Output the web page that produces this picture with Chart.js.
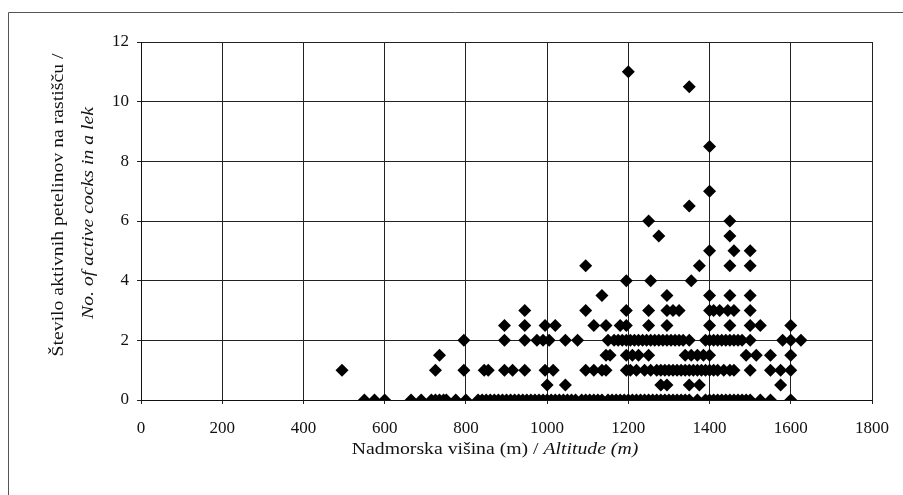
<!DOCTYPE html>
<html>
<head>
<meta charset="utf-8">
<script src="https://cdn.jsdelivr.net/npm/chart.js@4"></script>
<style>
  html, body { margin: 0; padding: 0; background: #fff; }
  #wrap { width: 903px; height: 495px; position: relative; }
</style>
</head>
<body>
<div id="wrap"><canvas id="c" width="903" height="495"></canvas></div>
<script>
"use strict";

// altitude (m) of each lek, grouped by number of active cocks
var cocks0 = [550, 575, 600, 665, 690, 715, 725, 735, 745, 752, 775, 800, 830, 840, 850, 860, 870, 880, 890, 900,
  910, 920, 930, 940, 950, 960, 970, 980, 990, 1000, 1010, 1020, 1030, 1040, 1050, 1060, 1070, 1085, 1095, 1105,
  1115, 1125, 1135, 1150, 1160, 1170, 1180, 1190, 1200, 1210, 1220, 1230, 1240, 1250, 1260, 1270, 1280, 1290,
  1300, 1310, 1320, 1330, 1340, 1350, 1370, 1390, 1400, 1410, 1420, 1430, 1440, 1450, 1460, 1470, 1480, 1490,
  1500, 1525, 1550, 1600];
var cocks0_5 = [1000, 1045, 1280, 1295, 1350, 1375, 1575];
var cocks1 = [495, 725, 795, 845, 855, 895, 915, 945, 995, 1015, 1095, 1115, 1135, 1145, 1195, 1205, 1220, 1240,
  1255, 1270, 1280, 1290, 1300, 1310, 1320, 1330, 1340, 1350, 1360, 1370, 1380, 1390, 1400, 1410, 1420, 1435,
  1450, 1460, 1500, 1550, 1575, 1600];
var cocks1_5 = [735, 1145, 1155, 1195, 1210, 1225, 1250, 1340, 1355, 1370, 1385, 1400, 1490, 1515, 1550, 1600];
var cocks2 = [795, 895, 945, 975, 990, 1005, 1045, 1075, 1150, 1165, 1175, 1185, 1195, 1205, 1215, 1225, 1235,
  1245, 1255, 1265, 1275, 1285, 1295, 1305, 1315, 1325, 1335, 1350, 1390, 1400, 1410, 1420, 1430, 1440, 1450,
  1460, 1470, 1480, 1500, 1580, 1600, 1625];
var cocks2_5 = [895, 945, 995, 1020, 1115, 1145, 1180, 1195, 1250, 1295, 1400, 1450, 1500, 1525, 1600];
var cocks3 = [945, 1095, 1195, 1250, 1295, 1310, 1325, 1400, 1410, 1425, 1445, 1460, 1500];
var cocks3_5 = [1135, 1295, 1400, 1450, 1500];
var cocks4 = [1195, 1255, 1355];
var cocks4_5 = [1095, 1375, 1450, 1500];
var cocks5 = [1400, 1460, 1500];
var cocks5_5 = [1275, 1450];
var cocks6 = [1250, 1450];
var cocks6_5 = [1350];
var cocks7 = [1400];
var cocks8_5 = [1400];
var cocks10_5 = [1350];
var cocks11 = [1200];

var xTicks = [0, 200, 400, 600, 800, 1000, 1200, 1400, 1600, 1800];
var yTicks = [0, 2, 4, 6, 8, 10, 12];

var yTitle1 = 'Število aktivnih petelinov na rastišču /';
var yTitle2 = 'No. of active cocks in a lek';
var xTitleA = 'Nadmorska višina (m) / ';
var xTitleB = 'Altitude (m)';

var SERIF = '"Liberation Serif", "Times New Roman", serif';
var STRETCH = 1.16; // scanned original is a bit wider than plain Times

function rows() {
  return [
    [0, cocks0], [0.5, cocks0_5], [1, cocks1], [1.5, cocks1_5], [2, cocks2], [2.5, cocks2_5],
    [3, cocks3], [3.5, cocks3_5], [4, cocks4], [4.5, cocks4_5], [5, cocks5], [5.5, cocks5_5],
    [6, cocks6], [6.5, cocks6_5], [7, cocks7], [8.5, cocks8_5], [10.5, cocks10_5], [11, cocks11]
  ];
}

function buildPoints() {
  var pts = [];
  rows().forEach(function(r) {
    r[1].forEach(function(alt) { pts.push({ x: alt, y: r[0] }); });
  });
  return pts;
}

function plainLabel(v) { return String(v); }

var titlesPlugin = {
  id: 'axisTitles',
  beforeDraw: function(chart) {
    var ctx = chart.ctx;
    ctx.save();
    ctx.fillStyle = '#fff';
    ctx.fillRect(0, 0, chart.width, chart.height);
    // outer frame of the figure
    ctx.strokeStyle = '#555';
    ctx.lineWidth = 1;
    ctx.beginPath();
    ctx.moveTo(8.5, 495);
    ctx.lineTo(8.5, 12.5);
    ctx.lineTo(903, 12.5);
    ctx.stroke();
    ctx.restore();
  },
  afterDraw: function(chart) {
    var ctx = chart.ctx;
    ctx.save();
    ctx.fillStyle = '#111';
    ctx.textBaseline = 'middle';
    ctx.textAlign = 'center';

    // y title, two rotated lines (rotated frame: +x is up the page)
    ctx.translate(59, 205);
    ctx.rotate(-Math.PI / 2);
    ctx.scale(STRETCH, 1);
    ctx.font = '17px ' + SERIF;
    ctx.fillText(yTitle1, 0, 0);
    ctx.font = 'italic 17px ' + SERIF;
    ctx.fillText(yTitle2, -8 / STRETCH, 30);
    ctx.setTransform(1, 0, 0, 1, 0, 0);

    // x title, upright part then italic part
    ctx.textAlign = 'left';
    ctx.font = '17px ' + SERIF;
    var wA = ctx.measureText(xTitleA).width;
    ctx.font = 'italic 17px ' + SERIF;
    var wB = ctx.measureText(xTitleB).width;
    ctx.translate(495, 450);
    ctx.scale(STRETCH, 1);
    var x0 = -(wA + wB) / 2;
    ctx.font = '17px ' + SERIF;
    ctx.fillText(xTitleA, x0, 0);
    ctx.font = 'italic 17px ' + SERIF;
    ctx.fillText(xTitleB, x0 + wA, 0);
    ctx.restore();
  }
};

var chart = new Chart(document.getElementById('c'), {
  type: 'scatter',
  data: {
    datasets: [{
      data: buildPoints(),
      pointStyle: 'rectRot',
      pointRadius: 6.5,
      pointHoverRadius: 6.5,
      backgroundColor: '#000',
      borderWidth: 0
    }]
  },
  options: {
    responsive: false,
    animation: false,
    events: [],
    layout: { padding: { left: 0, top: 42, right: 23, bottom: 0 } },
    plugins: { legend: { display: false }, tooltip: { enabled: false } },
    scales: {
      x: {
        type: 'linear',
        min: 0,
        max: 1800,
        afterBuildTicks: function(scale) {
          scale.ticks = xTicks.map(function(v) { return { value: v }; });
        },
        afterFit: function(scale) { scale.height = 95; },
        grid: { color: '#222', lineWidth: 1, tickLength: 4, tickColor: '#222' },
        border: { color: '#111', width: 1 },
        ticks: { color: '#111', padding: 14, maxRotation: 0, callback: plainLabel, font: { family: SERIF, size: 17 } }
      },
      y: {
        type: 'linear',
        min: 0,
        max: 12,
        afterBuildTicks: function(scale) {
          scale.ticks = yTicks.map(function(v) { return { value: v }; });
        },
        afterFit: function(scale) { scale.width = 141; },
        grid: { color: '#222', lineWidth: 1, tickLength: 4, tickColor: '#222' },
        border: { color: '#111', width: 1 },
        ticks: { color: '#111', padding: 8, callback: plainLabel, font: { family: SERIF, size: 17 } }
      }
    }
  },
  plugins: [titlesPlugin]
});
</script>
</body>
</html>
